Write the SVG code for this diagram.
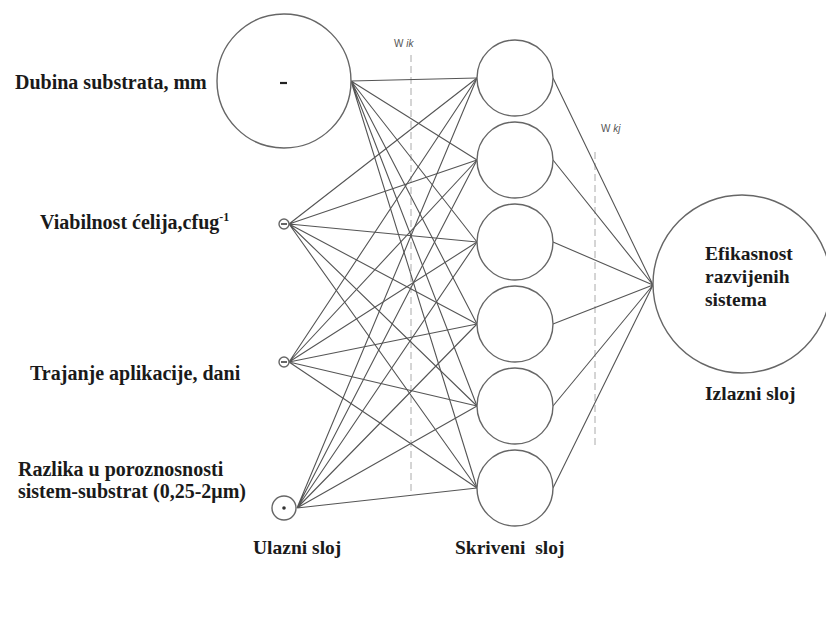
<svg xmlns="http://www.w3.org/2000/svg" width="826" height="643" viewBox="0 0 826 643">
  <style>
    .node { fill: #fff; stroke: #666; stroke-width: 1.4; }
    .edge { stroke: #555; stroke-width: 1.1; fill: none; }
    .guide { stroke: #aaa; stroke-width: 1; stroke-dasharray: 7 4; fill: none; }
    .lbl { font-family: "Liberation Serif", "Times New Roman", serif; font-weight: bold; font-size: 19.5px; fill: #1a1a1a; }
    .big { font-size: 20px; }
    .w { font-family: "Liberation Sans", Arial, sans-serif; font-size: 10px; fill: #555; }
  </style>
  <rect width="826" height="643" fill="#fff"/>

  <!-- weight guides -->
  <g id="guides">
    <line class="guide" x1="411" y1="55" x2="411" y2="494"/>
    <line class="guide" x1="595" y1="152" x2="595" y2="445"/>
    <text class="w" x="394" y="47">W <tspan font-style="italic">ik</tspan></text>
    <text class="w" x="601" y="132">W <tspan font-style="italic">kj</tspan></text>
  </g>

  <!-- connectors -->
  <g id="connectors">
    <!-- input 1 -> hidden -->
    <path class="edge" d="M351 81L477 78M351 81L477 160M351 81L477 242M351 81L477 324M351 81L477 406M351 81L477 488"/>
    <!-- input 2 -> hidden -->
    <path class="edge" d="M289 224L477 78M289 224L477 160M289 224L477 242M289 224L477 324M289 224L477 406M289 224L477 488"/>
    <!-- input 3 -> hidden -->
    <path class="edge" d="M289 362L477 78M289 362L477 160M289 362L477 242M289 362L477 324M289 362L477 406M289 362L477 488"/>
    <!-- input 4 -> hidden -->
    <path class="edge" d="M297 508L477 78M297 508L477 160M297 508L477 242M297 508L477 324M297 508L477 406M297 508L477 488"/>
    <!-- hidden -> output -->
    <path class="edge" d="M553 78L653 285M553 160L653 285M553 242L653 285M553 324L653 285M553 406L653 285M553 488L653 285"/>
  </g>

  <!-- input layer -->
  <g id="in-dubina">
    <circle class="node" cx="284" cy="81" r="67"/>
    <line x1="280" y1="83" x2="287" y2="83" stroke="#222" stroke-width="2.2"/>
    <text class="lbl big" x="15" y="89">Dubina substrata, mm</text>
  </g>
  <g id="in-viabilnost">
    <circle class="node" cx="284" cy="224" r="5"/>
    <line x1="281" y1="224" x2="287" y2="224" stroke="#333" stroke-width="1.5"/>
    <text class="lbl big" x="40" y="229">Viabilnost ćelija,cfug<tspan font-size="12" dy="-8">-1</tspan></text>
  </g>
  <g id="in-trajanje">
    <circle class="node" cx="284" cy="362" r="5"/>
    <line x1="281" y1="362" x2="287" y2="362" stroke="#333" stroke-width="1.5"/>
    <text class="lbl big" x="30" y="380">Trajanje aplikacije, dani</text>
  </g>
  <g id="in-razlika">
    <circle class="node" cx="284" cy="508" r="12"/>
    <circle cx="284" cy="508" r="1.8" fill="#333"/>
    <text class="lbl big" x="18" y="476">Razlika u poroznosnosti</text>
    <text class="lbl big" x="18" y="498">sistem-substrat (0,25-2μm)</text>
  </g>
  <text class="lbl" x="253" y="554">Ulazni sloj</text>

  <!-- hidden layer -->
  <g id="hidden-1"><circle class="node" cx="515" cy="78" r="38"/></g>
  <g id="hidden-2"><circle class="node" cx="515" cy="160" r="38"/></g>
  <g id="hidden-3"><circle class="node" cx="515" cy="242" r="38"/></g>
  <g id="hidden-4"><circle class="node" cx="515" cy="324" r="38"/></g>
  <g id="hidden-5"><circle class="node" cx="515" cy="406" r="38"/></g>
  <g id="hidden-6"><circle class="node" cx="515" cy="488" r="38"/></g>
  <text class="lbl" x="455" y="554" xml:space="preserve">Skriveni  sloj</text>

  <!-- output layer -->
  <g id="out-efikasnost">
    <circle class="node" cx="742" cy="284" r="89"/>
    <text class="lbl" x="705" y="260">Efikasnost</text>
    <text class="lbl" x="705" y="283">razvijenih</text>
    <text class="lbl" x="705" y="306">sistema</text>
  </g>
  <text class="lbl" x="705" y="400">Izlazni sloj</text>
</svg>
